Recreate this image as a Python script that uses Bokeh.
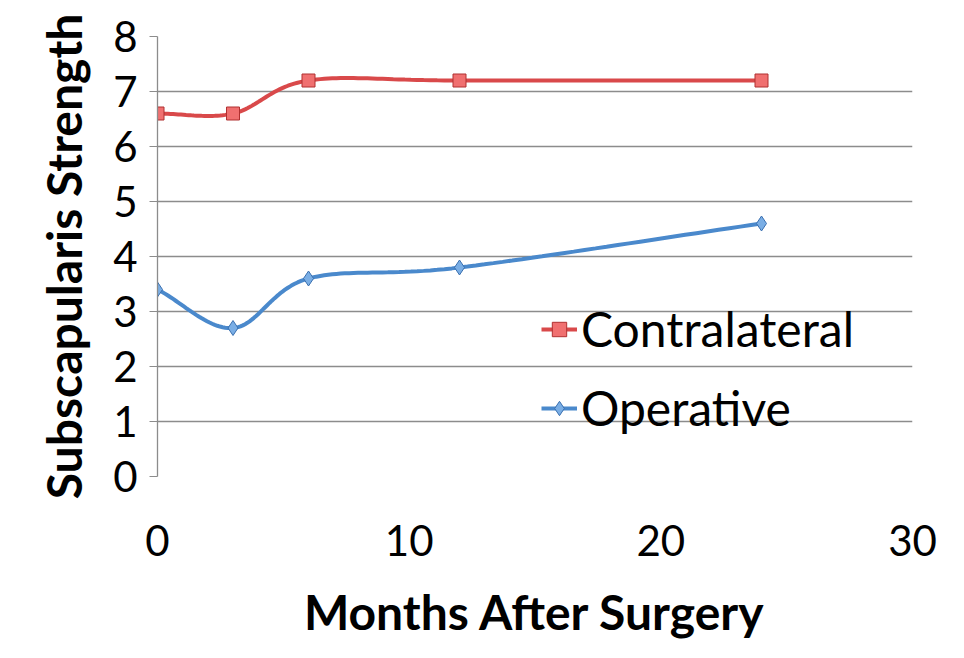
import numpy as np
from bokeh.plotting import figure
from bokeh.models import Range1d, Legend, LegendItem, FixedTicker
from bokeh.embed import file_html
from bokeh.resources import INLINE

months = [0, 3, 6, 12, 24]
contralateral = [6.6, 6.6, 7.2, 7.2, 7.2]
operative = [3.4, 2.7, 3.6, 3.8, 4.6]

def smooth(xs, ys, n=30):
    xs = np.asarray(xs, float); ys = np.asarray(ys, float)
    px = np.concatenate([[2*xs[0]-xs[1]], xs, [2*xs[-1]-xs[-2]]])
    py = np.concatenate([[2*ys[0]-ys[1]], ys, [2*ys[-1]-ys[-2]]])
    ox, oy = [], []
    for i in range(1, len(px)-2):
        p0, p1, p2, p3 = [np.array([px[j], py[j]]) for j in (i-1, i, i+1, i+2)]
        c1 = p1 + (p2 - p0) / 6
        c2 = p2 - (p3 - p1) / 6
        t = np.linspace(0, 1, n)[:, None]
        b = (1-t)**3*p1 + 3*(1-t)**2*t*c1 + 3*(1-t)*t**2*c2 + t**3*p2
        ox += list(b[:, 0]); oy += list(b[:, 1])
    return ox, oy

p = figure(width=948, height=642, output_backend="svg", toolbar_location=None,
           x_range=Range1d(0, 30), y_range=Range1d(0, 8),
           min_border_left=157, min_border_right=36, min_border_top=36, min_border_bottom=165)
p.outline_line_color = None
p.xgrid.grid_line_color = None
p.ygrid.grid_line_color = "#8c8c8c"
p.ygrid.grid_line_width = 1.3
p.xaxis.ticker = FixedTicker(ticks=[0, 10, 20, 30])
p.yaxis.ticker = FixedTicker(ticks=list(range(9)))
for ax in (p.xaxis[0], p.yaxis[0]):
    ax.major_label_text_font = "Lato"
    ax.major_label_text_font_size = "42px"
    ax.major_label_text_color = "black"
    ax.axis_label_text_font = "Lato"
    ax.axis_label_text_font_size = "48px"
    ax.axis_label_text_font_style = "bold"
    ax.axis_label_text_color = "black"
    ax.minor_tick_line_color = None
    ax.major_tick_line_color = "#8c8c8c"
    ax.axis_line_color = "#8c8c8c"
    ax.axis_line_width = 1.3
p.xaxis.axis_label = "Months After Surgery"
p.yaxis.axis_label = "Subscapularis Strength"
p.xaxis.major_tick_in = 0
p.xaxis.major_tick_out = 0
p.xaxis.axis_line_color = None
p.yaxis.major_tick_in = 0
p.yaxis.major_tick_out = 8
p.xaxis.major_label_standoff = 48
p.xaxis.axis_label_standoff = 24
p.yaxis.major_label_standoff = 12
p.yaxis.axis_label_standoff = 18

red = "#D9494A"; blue = "#4A89CC"
sx, sy = smooth(months, contralateral)
l1 = p.line(sx, sy, line_color=red, line_width=4)
m1 = p.scatter(months, contralateral, marker="square", size=13, fill_color="#F07070", line_color="#B03030")
sx, sy = smooth(months, operative)
l2 = p.line(sx, sy, line_color=blue, line_width=4)
m2 = p.scatter(months, operative, marker="diamond", size=15, fill_color="#7AAEE5", line_color="#3A70B0")

leg = Legend(items=[LegendItem(label="Contralateral", renderers=[l1, m1]),
                    LegendItem(label="Operative", renderers=[l2, m2])],
             location=(384, 40), label_text_font="Lato", label_text_font_size="48px",
             label_text_color="black", label_height=50, glyph_height=50,
             border_line_color=None, background_fill_alpha=0, glyph_width=36,
             spacing=22, label_standoff=4)
p.add_layout(leg, "center")

open("out.html", "w").write(file_html(p, INLINE))
